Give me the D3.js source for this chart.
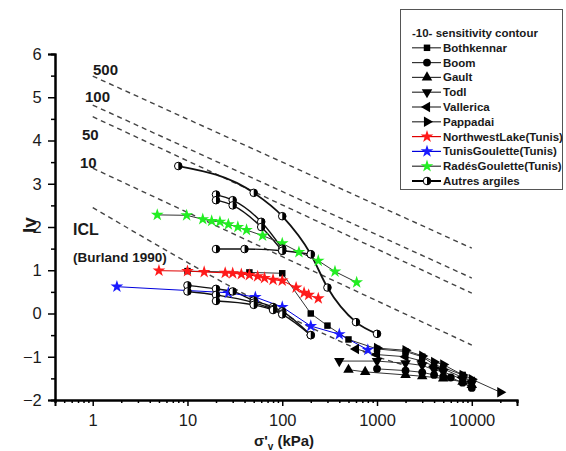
<!DOCTYPE html>
<html><head><meta charset="utf-8">
<script src="https://cdn.jsdelivr.net/npm/d3@7"></script>
<style>body{margin:0;background:#fff}svg{display:block;font-family:"Liberation Sans",Arial,sans-serif}</style>
</head><body><div id="chart"></div>
<script>
// ---- data (sigma'v kPa, Iv) ----
const xTicks=[1,10,100,1000,10000];
const yTicks=[-2,-1,0,1,2,3,4,5,6];

const contour500=[[1,5.49],[10000,1.51]];
const contour100=[[1,4.82],[10000,0.82]];
const contour50=[[1,4.55],[10000,0.47]];
const contour10=[[1,3.36],[10000,-0.73]];
const icl=[[1,2.45],[3.16,1.81],[10,1.18],[31.6,0.57],[100,0.0],[316,-0.53],[1000,-1.0],[2000,-1.2]];

const bothkennar=[[10,0.98],[45,0.95],[100,0.93],[200,0.0],[300,-0.28],[500,-0.6],[1000,-0.82],[2000,-0.88],[3000,-1.0],[4000,-1.18],[5000,-1.25],[8000,-1.42],[10000,-1.6]];
const boom=[[1000,-1.28],[2000,-1.32],[3000,-1.36],[4000,-1.42],[5000,-1.46],[6000,-1.48],[8000,-1.6],[10000,-1.72]];
const gault=[[500,-1.3],[750,-1.35],[2000,-1.42],[3000,-1.45],[5000,-1.5],[8000,-1.58],[10000,-1.65]];
const todl=[[400,-1.1],[1000,-1.1],[2000,-1.15],[3000,-1.2],[4000,-1.3],[5000,-1.35],[8000,-1.52],[10000,-1.62]];
const vallerica=[[600,-0.82],[1000,-0.95],[2000,-1.0],[3000,-1.1],[4000,-1.22],[5000,-1.28],[8000,-1.48],[10000,-1.58]];
const pappadai=[[1000,-0.8],[2000,-0.85],[3000,-0.98],[4000,-1.12],[5000,-1.18],[8000,-1.42],[10000,-1.52],[20000,-1.82]];
const northwestLake=[[5,0.99],[10,0.98],[15,0.96],[25,0.94],[30,0.93],[37,0.91],[45,0.89],[55,0.86],[65,0.82],[80,0.78],[100,0.76],[140,0.6],[170,0.48],[190,0.43],[240,0.35]];
const tunisGoulette=[[1.8,0.62],[27,0.48],[52,0.38],[100,0.15],[200,-0.29],[400,-0.48],[800,-0.84]];
const radesGoulette=[[4.8,2.28],[9.8,2.27],[14.5,2.18],[18,2.14],[22,2.12],[27,2.06],[34,2.0],[42,1.93],[62,1.8],[100,1.62],[150,1.42],[240,1.22],[360,0.97],[610,0.72]];
const autres=[
  [[8,3.41],[50,2.79],[100,2.25],[200,1.37],[300,0.6],[600,-0.2],[1000,-0.47]],
  [[20,2.75],[30,2.62],[60,2.12],[100,1.5]],
  [[20,2.62],[30,2.5],[60,2.0],[100,1.45]],
  [[20,1.49],[40,1.49],[100,1.45],[200,1.37]],
  [[10,0.65],[20,0.57],[30,0.51],[50,0.3],[80,0.15],[100,0.05],[200,-0.5]],
  [[10,0.51],[20,0.43],[50,0.25],[80,0.1],[100,0.0]],
  [[20,0.29],[50,0.2],[80,0.08],[100,-0.02],[200,-0.5]]
];
const contourLabels=[{t:'500',x:93,y:75},{t:'100',x:85,y:102},{t:'50',x:82,y:140},{t:'10',x:80,y:168}];

const W=566,H=451;
const svg=d3.select('#chart').append('svg').attr('width',W).attr('height',H);
const x=d3.scaleLog().domain([0.4,30000]).range([55,517]);
const y=d3.scaleLinear().domain([-2,6]).range([400,54]);

// axes
const minorX=[];
[0.1,1,10,100,1000,10000].forEach(d=>{for(let k=2;k<=9;k++){const v=d*k;if(v>=0.4&&v<=30000)minorX.push(v);}});
const gx=svg.append('g').attr('transform','translate(0,400)');
gx.call(d3.axisBottom(x).tickValues(minorX).tickSize(3).tickFormat(''));
gx.call(g=>g.append('g').call(d3.axisBottom(x).tickValues(xTicks).tickSize(6).tickFormat(d3.format('d'))));
const gy=svg.append('g').attr('transform','translate(55,0)');
gy.call(d3.axisLeft(y).tickValues(d3.range(-1.5,6,1)).tickSize(4).tickFormat(''));
gy.call(g=>g.append('g').call(d3.axisLeft(y).tickValues(yTicks).tickSize(7).tickFormat(d3.format('d'))));
svg.selectAll('.domain').attr('stroke','#000').attr('stroke-width',2);
svg.selectAll('.tick line').attr('stroke','#000').attr('stroke-width',1.5);
svg.selectAll('.tick text').attr('fill','#1a1a1a').style('font-size','16.5px');
gx.selectAll('.tick text').attr('dy','1.0em');
gy.selectAll('.tick text').attr('dx','-0.2em');

const line=d3.line().x(d=>x(d[0])).y(d=>y(d[1]));
const smooth=d3.line().x(d=>x(d[0])).y(d=>y(d[1])).curve(d3.curveMonotoneX);

// sensitivity contours + ICL
[contour500,contour100,contour50,contour10,icl].forEach(c=>{
  svg.append('path').datum(c).attr('d',smooth).attr('fill','none')
    .attr('stroke','#444').attr('stroke-width',1.4).attr('stroke-dasharray','5,4');
});
contourLabels.forEach(l=>svg.append('text').attr('x',l.x).attr('y',l.y).attr('fill','#1a1a1a')
  .style('font-size','15px').style('font-weight','bold').text(l.t));
svg.append('text').attr('x',73).attr('y',235).attr('fill','#1a1a1a').style('font-size','16px').style('font-weight','bold').text('ICL');
svg.append('text').attr('x',73).attr('y',262).attr('fill','#1a1a1a').style('font-size','13.5px').style('font-weight','bold').text('(Burland 1990)');

const sym=(type,rot)=>({type,rot});
const series=[
  {name:'Bothkennar',data:bothkennar,m:sym(d3.symbolSquare,0),size:42,fill:'#000',line:'#333'},
  {name:'Boom',data:boom,m:sym(d3.symbolCircle,0),size:48,fill:'#000',line:'#333'},
  {name:'Gault',data:gault,m:sym(d3.symbolTriangle,0),size:48,fill:'#000',line:'#333'},
  {name:'Todl',data:todl,m:sym(d3.symbolTriangle,180),size:48,fill:'#000',line:'#333'},
  {name:'Vallerica',data:vallerica,m:sym(d3.symbolTriangle,-90),size:48,fill:'#000',line:'#333'},
  {name:'Pappadai',data:pappadai,m:sym(d3.symbolTriangle,90),size:48,fill:'#000',line:'#333'},
  {name:'NorthwestLake(Tunis)',data:northwestLake,m:sym(d3.symbolStar,0),size:50,fill:'#ff1a1a',line:'#e00000'},
  {name:'TunisGoulette(Tunis)',data:tunisGoulette,m:sym(d3.symbolStar,0),size:50,fill:'#1a1aff',line:'#0000dd'},
  {name:'RadésGoulette(Tunis)',data:radesGoulette,m:sym(d3.symbolStar,0),size:50,fill:'#22ee22',line:'#333'}
];

// lines
autres.forEach((c,i)=>svg.append('path').datum(c).attr('d',smooth).attr('fill','none')
  .attr('stroke','#111').attr('stroke-width',i===0?1.8:1.4));
series.forEach(s=>svg.append('path').datum(s.data).attr('d',line).attr('fill','none')
  .attr('stroke',s.line).attr('stroke-width',1)); 

function halfCircle(g,cx,cy,r){
  g.append('circle').attr('cx',cx).attr('cy',cy).attr('r',r).attr('fill','#fff').attr('stroke','#000').attr('stroke-width',1);
  g.append('path').attr('d',`M${cx},${cy-r}A${r},${r} 0 0 1 ${cx},${cy+r}Z`).attr('fill','#000');
}
function marker(g,s,cx,cy){
  g.append('path').attr('d',d3.symbol().type(s.m.type).size(s.size)())
    .attr('transform',`translate(${cx},${cy}) rotate(${s.m.rot})`).attr('fill',s.fill);
}
// markers
const mg=svg.append('g');
series.forEach(s=>s.data.forEach(d=>marker(mg,s,x(d[0]),y(d[1]))));
autres.forEach(c=>c.forEach(d=>halfCircle(mg,x(d[0]),y(d[1]),3.8)));

// legend
const lg=svg.append('g');
lg.append('rect').attr('x',400.5).attr('y',9.5).attr('width',162).attr('height',180)
  .attr('fill','#fff').attr('stroke','#555').attr('stroke-width',1);
const ly=i=>33+i*14.8;
const lf='11.5px';
lg.append('text').attr('x',412).attr('y',ly(0)+4).style('font-size',lf).style('font-weight','bold').attr('fill','#1a1a1a').text('-10- sensitivity contour');
series.forEach((s,i)=>{
  const yy=ly(i+1);
  lg.append('line').attr('x1',412).attr('x2',441).attr('y1',yy).attr('y2',yy).attr('stroke',s.line).attr('stroke-width',1.2);
  marker(lg,s,427,yy);
  lg.append('text').attr('x',443).attr('y',yy+4).style('font-size',lf).style('font-weight','bold').attr('fill','#1a1a1a').text(s.name);
});
const ya=ly(10);
lg.append('line').attr('x1',412).attr('x2',441).attr('y1',ya).attr('y2',ya).attr('stroke','#000').attr('stroke-width',2);
halfCircle(lg,427,ya,3.8);
lg.append('text').attr('x',443).attr('y',ya+4).style('font-size',lf).style('font-weight','bold').attr('fill','#1a1a1a').text('Autres argiles');

// axis titles
svg.append('text').attr('transform','translate(36,225) rotate(-90)').attr('text-anchor','middle')
  .style('font-size','19px').style('font-weight','bold').attr('fill','#1a1a1a').text('Iv');
const xt=svg.append('text').attr('x',284).attr('y',446).attr('text-anchor','middle')
  .style('font-size','15px').style('font-weight','bold').attr('fill','#1a1a1a');
xt.append('tspan').text("σ'");
xt.append('tspan').attr('dy',4).style('font-size','10px').text('v');
xt.append('tspan').attr('dy',-4).text(' (kPa)');
</script></body></html>
